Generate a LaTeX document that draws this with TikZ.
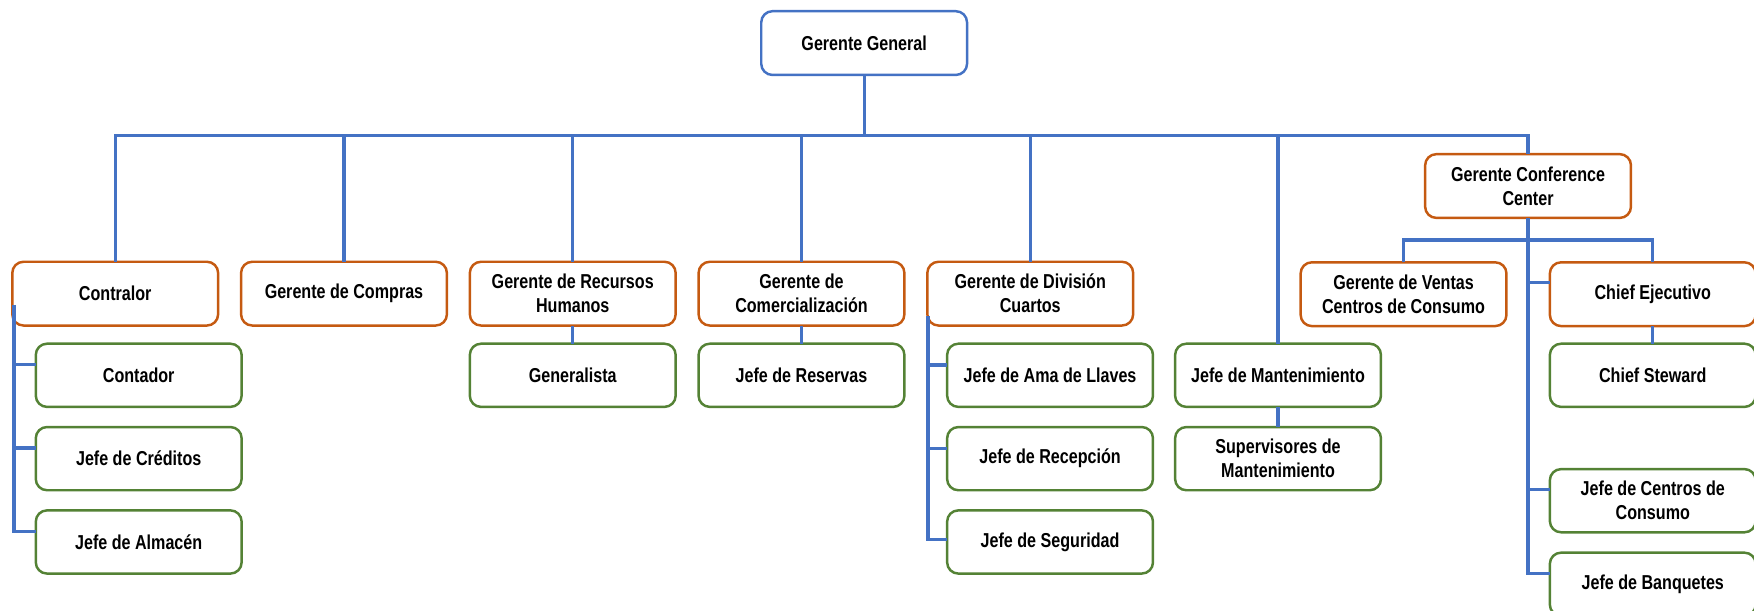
\documentclass[tikz,border=0pt]{standalone}
\usepackage{fontspec}
\setmainfont{Liberation Sans}[FakeStretch=0.8]
\usetikzlibrary{positioning}
\definecolor{lineblue}{HTML}{4472C4}
\definecolor{boxorange}{HTML}{C55A11}
\definecolor{boxgreen}{HTML}{548235}

\begin{document}
\begin{tikzpicture}[x=1pt, y=-1pt,
    orgbox/.style={rectangle, rounded corners=10pt, line width=2.2pt, fill=white,
        minimum width=184pt, minimum height=57pt, inner sep=2pt, outer sep=0pt,
        align=center, font=\fontsize{18}{21.5}\selectfont\bfseries},
    topbox/.style={orgbox, draw=lineblue},
    mgrbox/.style={orgbox, draw=boxorange},
    subbox/.style={orgbox, draw=boxgreen, minimum height=56.5pt},
    wire/.style={draw=lineblue, line width=2.8pt}]
    \useasboundingbox (0,0) rectangle (1568,546);

    \node[topbox] (gg) at (772.5,38.5) {Gerente General};
    \node[mgrbox] (contralor) at (103,262.5) {Contralor};
    \node[mgrbox, right=20.5pt of contralor] (compras) {Gerente de Compras};
    \node[mgrbox, right=20.5pt of compras] (rrhh) {Gerente de Recursos\\Humanos};
    \node[mgrbox, right=20.5pt of rrhh] (comerc) {Gerente de\\Comercialización};
    \node[mgrbox, right=20.5pt of comerc] (division) {Gerente de División\\Cuartos};
    \node[mgrbox] (conf) at (1366,166.3) {Gerente Conference\\Center};
    \node[mgrbox] (ventas) at (1254.7,263) {Gerente de Ventas\\Centros de Consumo};
    \node[mgrbox, right=38.8pt of ventas] (chiefej) {Chief Ejecutivo};

    \node[subbox, below=16.25pt of contralor, xshift=21pt] (contador) {Contador};
    \node[subbox, below=18pt of contador] (creditos) {Jefe de Créditos};
    \node[subbox, below=18pt of creditos] (almacen) {Jefe de Almacén};
    \node[subbox, below=16.25pt of rrhh] (generalista) {Generalista};
    \node[subbox, below=16.25pt of comerc] (reservas) {Jefe de Reservas};
    \node[subbox, below=16.25pt of division, xshift=17.7pt] (llaves) {Jefe de Ama de Llaves};
    \node[subbox, below=18pt of llaves] (recepcion) {Jefe de Recepción};
    \node[subbox, below=18pt of recepcion] (seguridad) {Jefe de Seguridad};
    \node[subbox] (mant) at (1142.5,335.5) {Jefe de Mantenimiento};
    \node[subbox, below=18pt of mant] (supervisores) {Supervisores de\\Mantenimiento};
    \node[subbox, below=15.75pt of chiefej] (steward) {Chief Steward};
    \node[subbox, below=55.6pt of steward] (centros) {Jefe de Centros de\\Consumo};
    \node[subbox, below=18.2pt of centros] (banquetes) {Jefe de Banquetes};

    \coordinate (bus) at (772.5,121);
    \coordinate (subbus) at (1366,214.6);
    \coordinate (cspine) at ([xshift=1.5pt, yshift=-10pt]contralor.west);
    \coordinate (dspine) at ([xshift=0.6pt, yshift=-20pt]division.west);
    \foreach \n in {contador, creditos, almacen}
        \coordinate (t\n) at ([yshift=9.5pt]\n.west);
    \coordinate (tllaves) at ([yshift=9.2pt]llaves.west);
    \coordinate (trecepcion) at ([yshift=9.1pt]recepcion.west);
    \coordinate (tseguridad) at ([yshift=2.3pt]seguridad.west);
    \coordinate (tchiefej) at ([yshift=10.5pt]chiefej.west);
    \coordinate (tcentros) at ([yshift=10pt]centros.west);
    \coordinate (tbanquetes) at ([yshift=9.7pt]banquetes.west);

    \draw[wire] (gg.south) -- (bus);
    \foreach \n in {contralor, compras, rrhh, comerc, division, mant, conf}
        \draw[wire] (\n.north) |- (bus);
    \draw[wire] (ventas.north) |- (subbus) -| (chiefej.north);

    \draw[wire] (cspine) |- (talmacen);
    \draw[wire] (tcontador) -- (cspine |- tcontador);
    \draw[wire] (tcreditos) -- (cspine |- tcreditos);

    \draw[wire] (dspine) |- (tseguridad);
    \draw[wire] (tllaves) -- (dspine |- tllaves);
    \draw[wire] (trecepcion) -- (dspine |- trecepcion);

    \draw[wire] (conf.south) |- (tbanquetes);
    \draw[wire] (tchiefej) -- (conf.south |- tchiefej);
    \draw[wire] (tcentros) -- (conf.south |- tcentros);

    \draw[wire] (rrhh.south) -- (generalista.north);
    \draw[wire] (comerc.south) -- (reservas.north);
    \draw[wire] (mant.south) -- (supervisores.north);
    \draw[wire] (chiefej.south) -- (steward.north);
\end{tikzpicture}
\end{document}
